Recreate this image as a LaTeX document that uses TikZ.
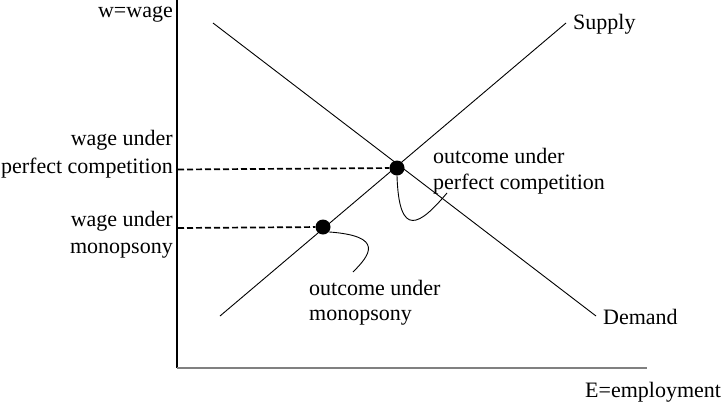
\documentclass[tikz,border=0pt]{standalone}
\usepackage{fontspec}
\setmainfont{Liberation Serif}
\begin{document}
\begin{tikzpicture}[x=1pt,y=-1pt,
  lbl/.style={inner sep=0pt,font=\fontsize{22}{25}\selectfont},
  lblr/.style={lbl,anchor=base east},
  lbll/.style={lbl,anchor=base west},
  curveline/.style={line width=0.9pt},
  axisy/.style={line width=1.3pt,black},
  axisx/.style={line width=1.7pt,color=black!50},
  dashline/.style={line width=1.7pt,dash pattern=on 6pt off 3pt},
  dotnode/.style={circle,fill=black,minimum size=15pt,inner sep=0pt}]
\useasboundingbox (0,0) rectangle (723,402);
% axes
\coordinate (ytop) at (177,0);
\coordinate (orig) at (177,368);
\coordinate (xend) at (647,368);
\draw[axisy] (ytop) -- (orig);
\draw[axisx] (orig) -- (xend);
% supply and demand
\coordinate (s1) at (220,316);
\coordinate (s2) at (566,23);
\coordinate (d1) at (213,23);
\coordinate (d2) at (596,316);
\draw[curveline] (s1) -- (s2);
\draw[curveline] (d1) -- (d2);
% dots
\node[dotnode] (pc) at (397,168) {};
\node[dotnode] (mc) at (323,227) {};
% dashed lines
\coordinate (wpc) at (178,169.5);
\coordinate (wmc) at (178,228);
\draw[dashline] (wpc) -- (pc);
\draw[dashline] (wmc) -- (mc);
% callout curves
\coordinate (cpc) at (447,193);
\coordinate (cmc) at (353,272);
\draw[curveline] (pc.south) .. controls (399,240) and (420,225) .. (cpc);
\draw[curveline] (mc.-40) .. controls (385,236) and (370,255) .. (cmc);
% labels
\node[lblr] (wage) at (173,17) {w=wage};
\node[lbll] (supply) at (573,29) {Supply};
\node[lbll] (demand) at (603,324) {Demand};
\node[lbll] (emp) at (585,397) {E=employment};
\node[lblr] (wpc1) at (173,145) {wage under};
\node[lblr] (wpc2) at (173,173) {perfect competition};
\node[lblr] (wmc1) at (173,226) {wage under};
\node[lblr] (wmc2) at (173,253) {monopsony};
\node[lbll] (opc1) at (433,163) {outcome under};
\node[lbll] (opc2) at (433,189) {perfect competition};
\node[lbll] (omc1) at (309,295) {outcome under};
\node[lbll] (omc2) at (309,320) {monopsony};
\end{tikzpicture}
\end{document}
